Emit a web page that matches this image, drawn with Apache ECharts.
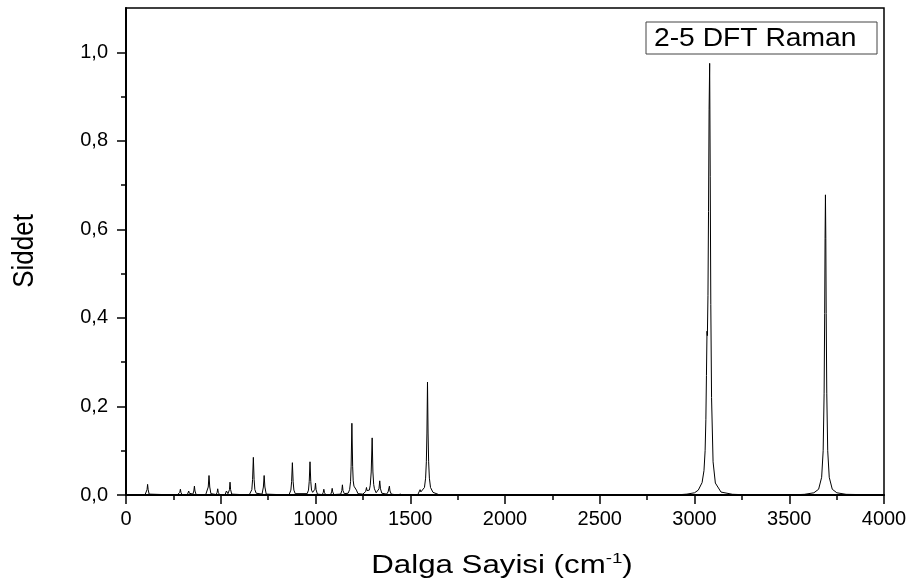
<!DOCTYPE html>
<html>
<head>
<meta charset="utf-8">
<script src="https://cdn.jsdelivr.net/npm/echarts@6/dist/echarts.min.js"></script>
<style>
  html, body { margin: 0; padding: 0; background: #fff; }
  #chart { width: 918px; height: 587px; }
</style>
</head>
<body>
<div id="chart"></div>
<script>
// Raman spektrumu, noktalar resimden okunarak yazildi (cm-1, siddet)
var lowCm  = [0, 100, 106, 111, 114, 117, 122, 270, 280, 284, 287, 290, 295, 324, 328, 331, 334, 339,
              353, 358, 361, 364, 370, 420, 428, 434, 438, 442, 448, 476, 481, 484, 487, 493,
              523, 527, 530, 533, 538, 541, 546, 549, 552, 558, 650, 657, 664, 668, 672, 676, 680, 687,
              718, 725, 729, 733, 740, 860, 863, 870, 874, 878, 882, 886, 893,
              956, 963, 967, 971, 975, 979, 985, 994, 997, 1000, 1003, 1010];
var lowInt = [0, 0, 0.002, 0.012, 0.024, 0.012, 0.002, 0, 0.001, 0.006, 0.013, 0.006, 0.001, 0.001, 0.004, 0.009, 0.004, 0.002,
              0.002, 0.009, 0.020, 0.009, 0.001, 0, 0.003, 0.018, 0.044, 0.018, 0.003, 0.001, 0.006, 0.014, 0.006, 0.001,
              0.001, 0.004, 0.009, 0.005, 0.003, 0.003, 0.012, 0.029, 0.012, 0.002, 0, 0.004, 0.012, 0.035, 0.085, 0.035, 0.012, 0.004,
              0.002, 0.018, 0.044, 0.018, 0.002, 0, 0.003, 0.011, 0.030, 0.073, 0.030, 0.011, 0.003,
              0.003, 0.011, 0.031, 0.075, 0.031, 0.011, 0.006, 0.009, 0.013, 0.027, 0.012, 0.002];

var midCm  = [1036, 1041, 1044, 1047, 1053, 1080, 1085, 1088, 1091, 1097, 1133, 1139, 1142, 1145, 1152,
              1172, 1180, 1185, 1188, 1192, 1196, 1199, 1203, 1207, 1210, 1213, 1216, 1224, 1250,
              1260, 1265, 1269, 1272, 1278, 1284, 1289, 1294, 1299, 1303, 1307, 1311,
              1320, 1330, 1335, 1339, 1343, 1350, 1375, 1383, 1387, 1390, 1393, 1400,
              1435, 1444, 1447, 1450, 1460, 1540, 1547, 1552, 1556, 1562,
              1566, 1575, 1581, 1585, 1588, 1591, 1594, 1597, 1601, 1607, 1620, 1650, 1700];
var midInt = [0.001, 0.006, 0.013, 0.006, 0.001, 0.001, 0.007, 0.015, 0.007, 0.001, 0.002, 0.010, 0.023, 0.010, 0.003,
              0.004, 0.012, 0.030, 0.065, 0.162, 0.065, 0.032, 0.020, 0.016, 0.018, 0.023, 0.011, 0.003, 0.002,
              0.003, 0.008, 0.017, 0.010, 0.008, 0.011, 0.022, 0.052, 0.129, 0.052, 0.024, 0.014,
              0.005, 0.008, 0.014, 0.032, 0.014, 0.004, 0.002, 0.007, 0.010, 0.020, 0.009, 0.002,
              0, 0.001, 0.002, 0.001, 0, 0.001, 0.005, 0.012, 0.007, 0.006,
              0.009, 0.017, 0.038, 0.075, 0.140, 0.255, 0.140, 0.075, 0.038, 0.017, 0.006, 0.001, 0];

var highCm  = [2900, 2960, 3000, 3020, 3040, 3050, 3056, 3060, 3063, 3066, 3068, 3071, 3074, 3077, 3080,
               3083, 3086, 3090, 3098, 3110, 3140, 3200, 3300, 3500,
               3580, 3630, 3655, 3671, 3679, 3684, 3687, 3689, 3691, 3693, 3695, 3698, 3703, 3711, 3727, 3751, 3800, 4000];
var highInt = [0, 0.002, 0.005, 0.011, 0.028, 0.055, 0.100, 0.170, 0.270, 0.370, 0.360, 0.450, 0.640, 0.870, 0.975,
               0.720, 0.430, 0.220, 0.075, 0.027, 0.0066, 0.0016, 0, 0,
               0.0015, 0.005, 0.013, 0.040, 0.100, 0.230, 0.410, 0.580, 0.678, 0.580, 0.410, 0.230, 0.100, 0.040, 0.013, 0.005, 0.0015, 0];

var yMajorTicks = [0, 0.2, 0.4, 0.6, 0.8, 1.0];
var yMinorTicks = [0.1, 0.3, 0.5, 0.7, 0.9];

var fontFam = 'Liberation Sans, Arial, sans-serif';

// noktalari birlestir
var allCm = lowCm.concat(midCm, highCm);
var allInt = lowInt.concat(midInt, highInt);
var lineData = [];
for (var i = 0; i < allCm.length; i++) {
    lineData.push([allCm[i], allInt[i]]);
}

var myChart = echarts.init(document.getElementById('chart'));
var option = {
    backgroundColor: '#fff',
    animation: false,
    grid: {
        left: 126, right: 34, top: 8, bottom: 92,
        show: true, borderColor: '#000', borderWidth: 1.5
    },
    xAxis: {
        type: 'value',
        min: 0, max: 4000, interval: 500,
        axisLine: { lineStyle: { color: '#000', width: 2 } },
        axisTick: { length: 9, lineStyle: { color: '#000', width: 1.5 } },
        minorTick: { show: true, splitNumber: 2, length: 5, lineStyle: { color: '#000', width: 1.5 } },
        splitLine: { show: false },
        axisLabel: {
            color: '#000', fontSize: 20, fontFamily: fontFam, margin: 14,
            formatter: function (v) { return String(v); }
        }
    },
    yAxis: [{
        type: 'value',
        min: 0, max: 1.1,
        position: 'left',
        axisLine: { show: true, lineStyle: { color: '#000', width: 2 } },
        axisTick: { show: true, length: 9, customValues: yMajorTicks, lineStyle: { color: '#000', width: 1.5 } },
        splitLine: { show: false },
        axisLabel: {
            color: '#000', fontSize: 20, fontFamily: fontFam, margin: 18,
            customValues: yMajorTicks,
            formatter: function (v) { return v.toFixed(1).replace('.', ','); }
        }
    }, {
        type: 'value',
        min: 0, max: 1.1,
        position: 'left',
        axisLine: { show: false },
        axisTick: { show: true, length: 5, customValues: yMinorTicks, lineStyle: { color: '#000', width: 1.5 } },
        axisLabel: { show: false },
        splitLine: { show: false }
    }],
    graphic: [
        {
            type: 'rect',
            shape: { x: 646, y: 22, width: 231, height: 32 },
            style: { fill: '#fff', stroke: '#444', lineWidth: 1 },
            z: 100
        },
        {
            type: 'text', x: 654, y: 39, z: 101, scaleX: 1.13, scaleY: 1,
            style: { text: '2-5 DFT Raman', fill: '#000', font: '25px ' + fontFam, verticalAlign: 'middle' }
        },
        {
            type: 'text', x: 25, y: 251, rotation: Math.PI / 2, z: 101, scaleY: 1.12,
            style: { text: 'Siddet', fill: '#000', font: '26px ' + fontFam, align: 'center', verticalAlign: 'middle' }
        },
        {
            type: 'text', x: 502, y: 566, z: 101, scaleX: 1.25,
            style: {
                text: '{a|Dalga Sayisi (cm}{s|-1}{a|)}',
                align: 'center', verticalAlign: 'middle', fill: '#000',
                rich: {
                    a: { fontSize: 25, fontFamily: fontFam, fill: '#000', lineHeight: 30 },
                    s: { fontSize: 15, fontFamily: fontFam, fill: '#000', lineHeight: 30, verticalAlign: 'top', padding: [0, 0, 16, 0] }
                }
            }
        }
    ],
    series: [{
        type: 'line',
        data: lineData,
        showSymbol: false,
        symbol: 'none',
        lineStyle: { color: '#000', width: 1 },
        z: 3
    }]
};
option && myChart.setOption(option);
</script>
</body>
</html>
